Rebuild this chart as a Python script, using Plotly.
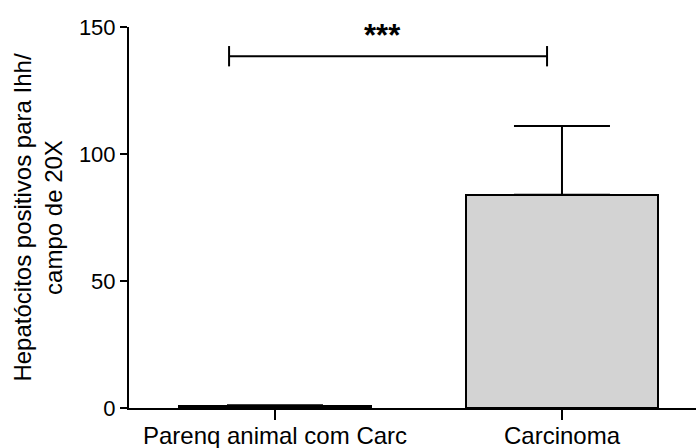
import plotly.graph_objects as go

categories = ["Parenq animal com Carc", "Carcinoma"]
means = [0.8, 84]
errors_up = [0.3, 27]
bracket_y = 138.5
y_ticks = [0, 50, 100, 150]
sig_label = "***"

xpos = list(range(len(categories)))

fig = go.Figure()
fig.add_trace(go.Bar(
    x=xpos, y=means, width=0.67,
    marker=dict(color="#d3d3d3", line=dict(color="#000000", width=2)),
    error_y=dict(type="data", symmetric=False, array=errors_up,
                 arrayminus=[0] * len(means), color="#000000",
                 thickness=2, width=48),
    showlegend=False,
))

# significance bracket
bx0, bx1 = -0.16, 0.948
fig.add_shape(type="line", x0=bx0, x1=bx1, y0=bracket_y, y1=bracket_y,
              line=dict(color="black", width=2))
for bx in (bx0, bx1):
    fig.add_shape(type="line", x0=bx, x1=bx, y0=bracket_y - 4, y1=bracket_y + 4,
                  line=dict(color="black", width=2))
fig.add_annotation(x=0.373, y=bracket_y + 0.5, text="<b>" + sig_label + "</b>",
                   showarrow=False, yanchor="bottom",
                   font=dict(size=31, color="black", family="Liberation Sans"))

fig.update_layout(
    width=696, height=448,
    margin=dict(l=129, r=0, t=27, b=40),
    plot_bgcolor="white", paper_bgcolor="white",
    font=dict(family="Liberation Sans, Arial, sans-serif", size=22, color="black"),
    xaxis=dict(range=[-0.5087, 1.467], tickvals=xpos, ticktext=categories,
               showline=True, linecolor="black", linewidth=2,
               ticks="outside", ticklen=10, tickwidth=2, tickcolor="black",
               showgrid=False, zeroline=False, tickfont=dict(size=24),
               ticklabelstandoff=-5, automargin=False),
    yaxis=dict(range=[0, 150], tickvals=y_ticks,
               showline=True, linecolor="black", linewidth=2,
               ticks="outside", ticklen=7, tickwidth=2, tickcolor="black",
               showgrid=False, zeroline=False, tickfont=dict(size=22),
               automargin=False,
               title=dict(text="Hepatócitos positivos para Ihh/<br>campo de 20X",
                          font=dict(size=24), standoff=9)),
    bargap=0,
)

fig.write_html("out.html")
